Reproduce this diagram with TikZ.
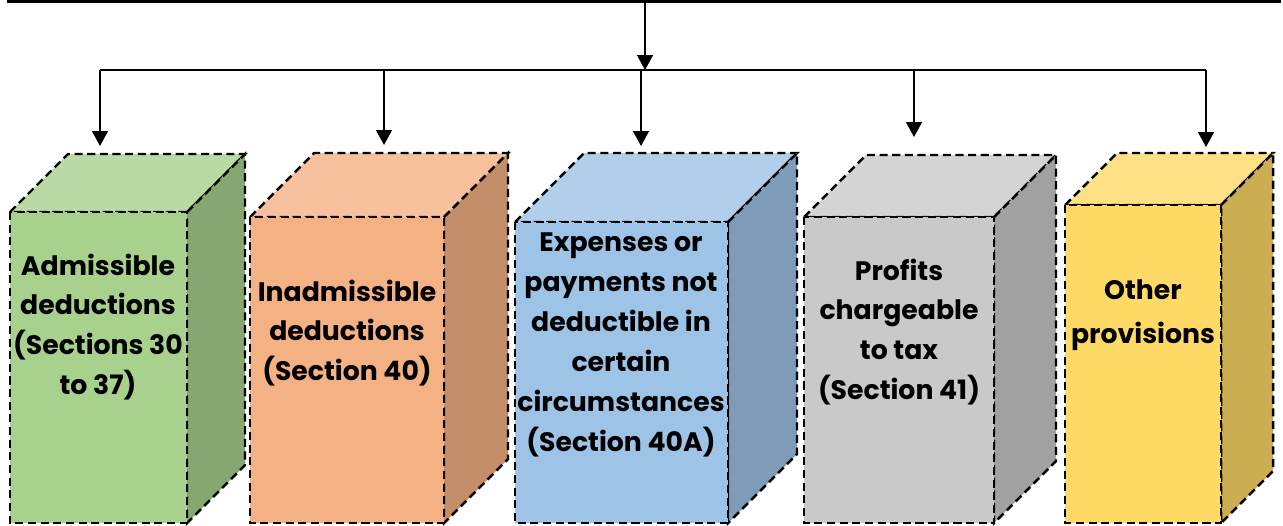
\documentclass[tikz,border=0pt]{standalone}
\usepackage{fontspec}
\setmainfont{Poppins}
\usetikzlibrary{arrows.meta}
\definecolor{sourcefill}{HTML}{8E7EA0}
\definecolor{greenbox}{HTML}{A9D18E}
\definecolor{orangebox}{HTML}{F4B183}
\definecolor{bluebox}{HTML}{9DC3E6}
\definecolor{graybox}{HTML}{C9C9C9}
\definecolor{yellowbox}{HTML}{FFD966}
\tikzset{
  source box/.style={
    draw=black,
    line width=2.3pt,
    fill=sourcefill,
    minimum width=25.42cm,
    minimum height=2cm,
    inner sep=0pt,
  },
  dashed edge/.style={
    draw=black,
    line width=1.4pt,
    dash pattern=on 4.6pt off 2.6pt,
  },
  box label/.style={
    font=\bfseries\fontsize{15.2}{22.7}\selectfont,
    text=black,
    align=center,
    inner sep=0pt,
  },
  link/.style={
    line width=1pt,
  },
  link arrow/.style={
    link,
    -{Triangle[length=8.5pt,width=9pt]},
  },
}
% cuboid: left x, right x, top y of front face, depth, colour
\newcommand{\cuboid}[5]{%
  \filldraw[dashed edge, fill=#5!80!white]
    (#1,#3) -- ({#1+#4},{#3-#4}) -- ({#2+#4},{#3-#4}) -- (#2,#3) -- cycle;
  \filldraw[dashed edge, fill=#5!80!black]
    (#2,#3) -- ({#2+#4},{#3-#4}) -- ({#2+#4},{523-#4}) -- (#2,523) -- cycle;
  \filldraw[dashed edge, fill=#5] (#1,#3) rectangle (#2,523);
}

\begin{document}
\begin{tikzpicture}[x=0.02cm, y=-0.02cm]
  \useasboundingbox (0,0) rectangle (1283,525);

  % --- Source box (cut off at the top) ---
  \node[source box, anchor=south] (source) at (644,3) {};
  \draw[line width=0.8pt] (167,-10) -- (167,3);
  \draw[line width=0.8pt] (1124,-10) -- (1124,3);

  % --- Cuboids ---
  \cuboid{10}{187}{212}{58}{greenbox}
  \cuboid{250}{444}{217}{64}{orangebox}
  \cuboid{515}{728}{222}{69}{bluebox}
  \cuboid{804}{994}{217}{62}{graybox}
  \cuboid{1065}{1221}{205}{52}{yellowbox}

  % --- Labels ---
  \node[box label] (admissible) at (98,327)
    {Admissible\\deductions\\(Sections 30\\to 37)};
  \node[box label] (inadmissible) at (347,333)
    {Inadmissible\\deductions\\(Section 40)};
  \node[box label] (expenses) at (621,345)
    {Expenses or\\payments not\\deductible in\\certain\\circumstances\\(Section 40A)};
  \node[box label] (profits) at (899,332)
    {Profits\\chargeable\\to tax\\(Section 41)};
  \node[box label] (other) at (1143,315)
    {Other\\[2pt]provisions};

  % --- Arrow tips above the cuboids ---
  \coordinate (split) at (645,70);
  \coordinate (t1) at (100,146);
  \coordinate (t2) at (384,145);
  \coordinate (t3) at (641,146);
  \coordinate (t4) at (914,137);
  \coordinate (t5) at (1206,147);

  % --- Connections ---
  \draw[link arrow] (source.south -| split) -- (split);
  \draw[link] (t1 |- split) -- (t5 |- split);
  \foreach \t in {1,...,5} {
    \draw[link arrow] (t\t |- split) -- (t\t);
  }

\end{tikzpicture}
\end{document}
